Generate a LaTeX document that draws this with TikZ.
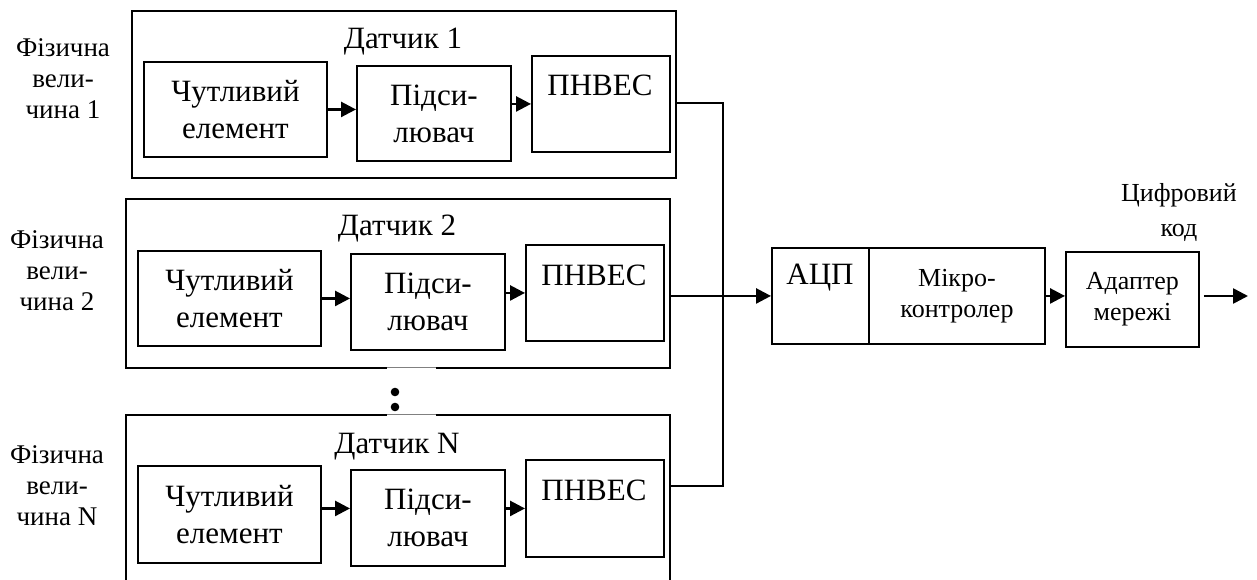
\documentclass[tikz,border=0pt]{standalone}
\usepackage{fontspec}
\setmainfont{Liberation Serif}
\usetikzlibrary{arrows.meta}
\begin{document}
\begin{tikzpicture}[x=1pt,y=-1pt,
  box/.style={draw,line width=1.9pt,inner sep=0pt,align=center,anchor=north west},
  big/.style={font=\fontsize{31}{37}\selectfont,align=center},
  side/.style={font=\fontsize{27}{31}\selectfont,align=center},
  small/.style={font=\fontsize{26}{31}\selectfont,align=center},
  arr/.style={line width=2.6pt,-{Triangle[length=15pt,width=15pt]}},
  wire/.style={line width=1.8pt}]
\clip (0,0) rectangle (1257,580);
\fill[white] (0,0) rectangle (1257,580);

% ---------- Sensor 1 ----------
\node[box,minimum width=544pt,minimum height=167pt] (S1) at (131,10) {};
\node[big] (T1) at (403,42) {Датчик 1};
\node[box,big,minimum width=183pt,minimum height=95pt] (C1) at (143,61) {Чутливий\\елемент};
\node[box,big,minimum width=154pt,minimum height=95pt] (A1) at (356,65) {Підси-\\лювач};
\node[box,minimum width=138pt,minimum height=96pt] (P1) at (531,55) {};
\node[big] (P1t) at (600,85) {ПНВЕС};
\node[side] (L1) at (63,79) {Фізична\\вели-\\чина 1};
\draw[arr] (C1.east) -- (A1.west |- C1.east);
\draw[arr] (A1.east |- P1.west) -- (P1.west);

% ---------- Sensor 2 ----------
\node[box,minimum width=544pt,minimum height=169pt] (S2) at (125,198) {};
\node[big] (T2) at (397,229) {Датчик 2};
\node[box,big,minimum width=183pt,minimum height=95pt] (C2) at (137,250) {Чутливий\\елемент};
\node[box,big,minimum width=154pt,minimum height=96pt] (A2) at (350,253) {Підси-\\лювач};
\node[box,minimum width=138pt,minimum height=96pt] (P2) at (525,244) {};
\node[big] (P2t) at (594,275) {ПНВЕС};
\node[side] (L2) at (57,271) {Фізична\\вели-\\чина 2};
\draw[arr] (C2.east) -- (A2.west |- C2.east);
\draw[arr] (A2.east |- P2.west) -- (P2.west);

% ---------- Sensor N ----------
\node[box,minimum width=544pt,minimum height=200pt] (SN) at (125,414) {};
\node[big] (TN) at (397,447) {Датчик N};
\node[box,big,minimum width=183pt,minimum height=97pt] (CN) at (137,465) {Чутливий\\елемент};
\node[box,big,minimum width=154pt,minimum height=96pt] (AN) at (350,469) {Підси-\\лювач};
\node[box,minimum width=138pt,minimum height=97pt] (PN) at (525,459) {};
\node[big] (PNt) at (594,490) {ПНВЕС};
\node[side] (LN) at (57,486) {Фізична\\вели-\\чина N};
\draw[arr] (CN.east |- PN.west) -- (AN.west |- PN.west);
\draw[arr] (AN.east |- PN.west) -- (PN.west);

% ---------- gap with dots ----------
\fill[white] (387,360) rectangle (436,420);
\draw[gray,line width=0.8pt] (387,367) -- (436,367);
\draw[gray,line width=0.8pt] (387,414) -- (436,414);
\fill (395,392) circle (4.3);
\fill (395,407) circle (4.3);

% ---------- right part ----------
\node[box,minimum width=97pt,minimum height=96pt] (ADC) at (771,247) {};
\node[big] (ADCt) at (820,278) {АЦП};
\node[box,small,minimum width=176pt,minimum height=96pt] (MC) at (868,247) {Мікро-\\контролер};
\node[box,small,minimum width=133pt,minimum height=95pt] (AD) at (1065,251) {Адаптер\\мережі};
\node[small,font=\fontsize{26}{35}\selectfont] (DC) at (1179,212) {Цифровий\\код};
\coordinate (out) at (1248,296);
\coordinate (jt) at (723,103);
\coordinate (jb) at (723,486);

% ---------- connectors ----------
\draw[wire] (S1.east |- jt) -- (jt) -- (jb) -- (SN.east |- jb);
\draw[arr] (S2.east |- ADC.west) -- (ADC.west);
\draw[arr] (MC.east) -- (AD.west |- MC.east);
\draw[arr] ([xshift=4pt]AD.east |- out) -- (out);
\end{tikzpicture}
\end{document}
